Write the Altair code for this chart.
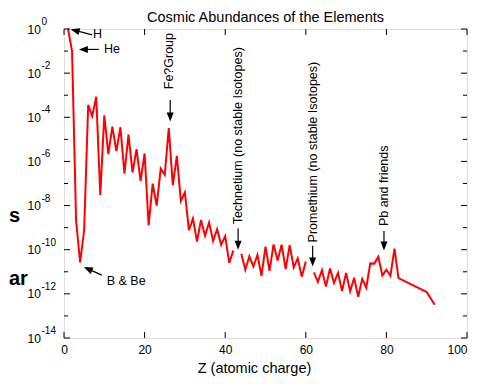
import altair as alt
import pandas as pd

TITLE = "Cosmic Abundances of the Elements"
X_TITLE = "Z (atomic charge)"
FONT = "Liberation Sans"

# log10 of abundance relative to hydrogen, by atomic number Z (three runs; gaps at Tc and Pm)
Z_A = list(range(1, 43))
LOG_A = [0.0, -1.01, -8.69, -10.58, -9.12, -3.44, -3.95, -3.07, -7.52, -3.91,
         -5.67, -4.42, -5.53, -4.45, -6.55, -4.79, -6.50, -5.44, -6.88, -5.64,
         -8.90, -7.01, -8.00, -6.33, -6.61, -4.49, -7.08, -5.75, -7.79, -7.40,
         -9.12, -8.59, -9.63, -8.65, -9.37, -8.77, -9.60, -9.07, -9.78, -9.39,
         -10.60, -10.04]
Z_B = list(range(44, 61))
LOG_B = [-10.18, -10.91, -10.30, -10.76, -10.24, -11.18, -9.86, -10.96, -9.76, -10.49,
         -9.77, -10.88, -9.79, -10.80, -10.39, -11.22, -10.53]
Z_C = list(range(62, 84)) + [90, 92]
LOG_C = [-11.03, -11.46, -10.93, -11.67, -10.85, -11.50, -11.05, -11.87, -11.05, -11.88,
         -11.27, -12.13, -11.32, -11.73, -10.62, -10.63, -10.32, -11.17, -10.91, -11.18,
         -9.95, -11.29, -11.92, -12.49]

# horizontal annotations
H_LABELS = ["H", "He", "B & Be"]
H_Z = [7.2, 9.9, 10.6]
H_LOG = [-0.22, -0.925, -11.41]

# vertical annotations (text reads upward from the anchor)
V_LABELS = ["Fe?Group", "Technetium (no stable Isotopes)",
            "Promethium (no stable Isotopes)", "Pb and friends"]
V_Z = [26.1, 43.2, 61.7, 79.4]
V_LOG = [-2.73, -8.85, -9.67, -8.93]

# arrows: tail -> head
A_Z1 = [6.99, 8.64, 9.38, 26.35, 43.2, 61.7, 79.4]
A_LOG1 = [-0.264, -0.925, -11.15, -3.22, -9.03, -9.82, -9.15]
A_Z2 = [2.73, 4.81, 5.95, 26.35, 43.2, 61.7, 79.4]
A_LOG2 = [-0.064, -0.925, -10.87, -3.99, -9.80, -10.56, -9.83]
A_ANGLE = [285, 270, 294, 180, 180, 180, 180]

# ticks
X_TICKS = [0, 20, 40, 60, 80, 100]
Y_MAJOR = [1, 1e-2, 1e-4, 1e-6, 1e-8, 1e-10, 1e-12, 1e-14]
Y_MINOR = [1e-1, 1e-3, 1e-5, 1e-7, 1e-9, 1e-11, 1e-13]
EXP_LABELS = ["0", "-2", "-4", "-6", "-8", "-10", "-12", "-14"]

W, H = 403, 309

line_df = pd.DataFrame({
    "Z": Z_A + Z_B + Z_C,
    "val": [10 ** v for v in LOG_A + LOG_B + LOG_C],
    "seg": ["a"] * len(Z_A) + ["b"] * len(Z_B) + ["c"] * len(Z_C),
})
hl_df = pd.DataFrame({"Z": H_Z, "val": [10 ** v for v in H_LOG], "label": H_LABELS})
vl_df = pd.DataFrame({"Z": V_Z, "val": [10 ** v for v in V_LOG], "label": V_LABELS})
ar_df = pd.DataFrame({"Z": A_Z1, "val": [10 ** v for v in A_LOG1],
                      "Z2": A_Z2, "val2": [10 ** v for v in A_LOG2], "ang": A_ANGLE})
ymaj_df = pd.DataFrame({"val": Y_MAJOR, "exp": EXP_LABELS})
ymin_df = pd.DataFrame({"val": Y_MINOR})
xt_df = pd.DataFrame({"Z": X_TICKS})

xs = alt.Scale(domain=[0, 100], nice=False, zero=False)
ys = alt.Scale(type="log", domain=[1e-14, 1], nice=False)
xaxis = alt.Axis(values=X_TICKS, title=X_TITLE, grid=False, domain=False, ticks=False,
                 tickSize=0, labelFlush=False, labelFontSize=12, labelPadding=6,
                 labelAlign={"condition": {"test": "datum.value === 100", "value": "right"},
                             "value": "center"},
                 labelColor="black", labelFont=FONT, titleFont=FONT, titleFontSize=14.5,
                 titleFontWeight="normal", titleColor="black", titleX=190, titleY=34,
                 titleBaseline="alphabetic", titleAlign="center")
yaxis = alt.Axis(values=Y_MAJOR, labelExpr="'10'", title=None, grid=False, domain=False,
                 ticks=False, tickSize=0, labelAlign="left", labelBaseline="middle",
                 labelPadding=37, labelFontSize=12, labelOverlap=False, labelFlush=False,
                 labelColor="black", labelFont=FONT)

X = alt.X("Z:Q", scale=xs, axis=xaxis)
Y = alt.Y("val:Q", scale=ys, axis=yaxis)

line = alt.Chart(line_df).mark_line(color="#ff0000", strokeWidth=2).encode(
    x=X, y=Y, detail="seg:N")

htext = alt.Chart(hl_df).mark_text(align="left", baseline="middle", fontSize=12.5,
                                   font=FONT, color="black").encode(x=X, y=Y, text="label:N")
vtext = alt.Chart(vl_df).mark_text(align="left", baseline="middle", angle=270, fontSize=12.5,
                                   font=FONT, color="black").encode(x=X, y=Y, text="label:N")
arrows = alt.Chart(ar_df).mark_rule(color="black", strokeWidth=1.2).encode(
    x=X, y=Y, x2="Z2:Q", y2="val2:Q")
heads = alt.Chart(ar_df).mark_point(shape="M0,-1L0.78,1L-0.78,1Z", filled=True, size=81,
                                    color="black", opacity=1, strokeWidth=0).encode(
    x=alt.X("Z2:Q", scale=xs, axis=xaxis), y=alt.Y("val2:Q", scale=ys, axis=yaxis),
    angle=alt.Angle("ang:Q", scale=None))

tick_style = dict(color="black", strokeWidth=1)
yl_major = alt.Chart(ymaj_df).mark_rule(**tick_style).encode(y=Y, x=alt.value(0), x2=alt.value(6))
yr_major = alt.Chart(ymaj_df).mark_rule(**tick_style).encode(y=Y, x=alt.value(W), x2=alt.value(W - 6))
yl_minor = alt.Chart(ymin_df).mark_rule(**tick_style).encode(y=Y, x=alt.value(0), x2=alt.value(4))
yr_minor = alt.Chart(ymin_df).mark_rule(**tick_style).encode(y=Y, x=alt.value(W), x2=alt.value(W - 4))
xb = alt.Chart(xt_df).mark_rule(**tick_style).encode(x=X, y=alt.value(H), y2=alt.value(H - 6))
xtp = alt.Chart(xt_df).mark_rule(**tick_style).encode(x=X, y=alt.value(0), y2=alt.value(6))

exps = alt.Chart(ymaj_df).mark_text(align="left", baseline="middle", fontSize=10, dy=-7,
                                    font=FONT, color="black").encode(
    y=Y, x=alt.value(-22.5), text="exp:N")

title = alt.Chart(pd.DataFrame({"t": [TITLE]})).mark_text(
    align="center", baseline="alphabetic", fontSize=14.5, font=FONT, color="black").encode(
    x=alt.value(W / 2), y=alt.value(-7.5), text="t:N")

side_style = dict(align="left", baseline="alphabetic", fontSize=20, fontWeight="bold",
                  font=FONT, color="black")
side_s = alt.Chart(pd.DataFrame({"t": ["s"]})).mark_text(**side_style).encode(
    x=alt.value(-55), y=alt.value(193), text="t:N")
side_ar = alt.Chart(pd.DataFrame({"t": ["ar"]})).mark_text(**side_style).encode(
    x=alt.value(-55), y=alt.value(256), text="t:N")

chart = alt.layer(line, arrows, heads, htext, vtext, yl_major, yr_major, yl_minor, yr_minor,
                  xb, xtp, exps, title, side_s, side_ar).properties(
    width=W, height=H,
    padding={"left": 56, "top": 21, "right": 2, "bottom": 38},
    autosize=alt.AutoSizeParams(type="none"),
).configure_view(stroke="black", strokeWidth=2).configure(font=FONT)

chart.save("out.html", embed_options={"renderer": "svg", "actions": False})
